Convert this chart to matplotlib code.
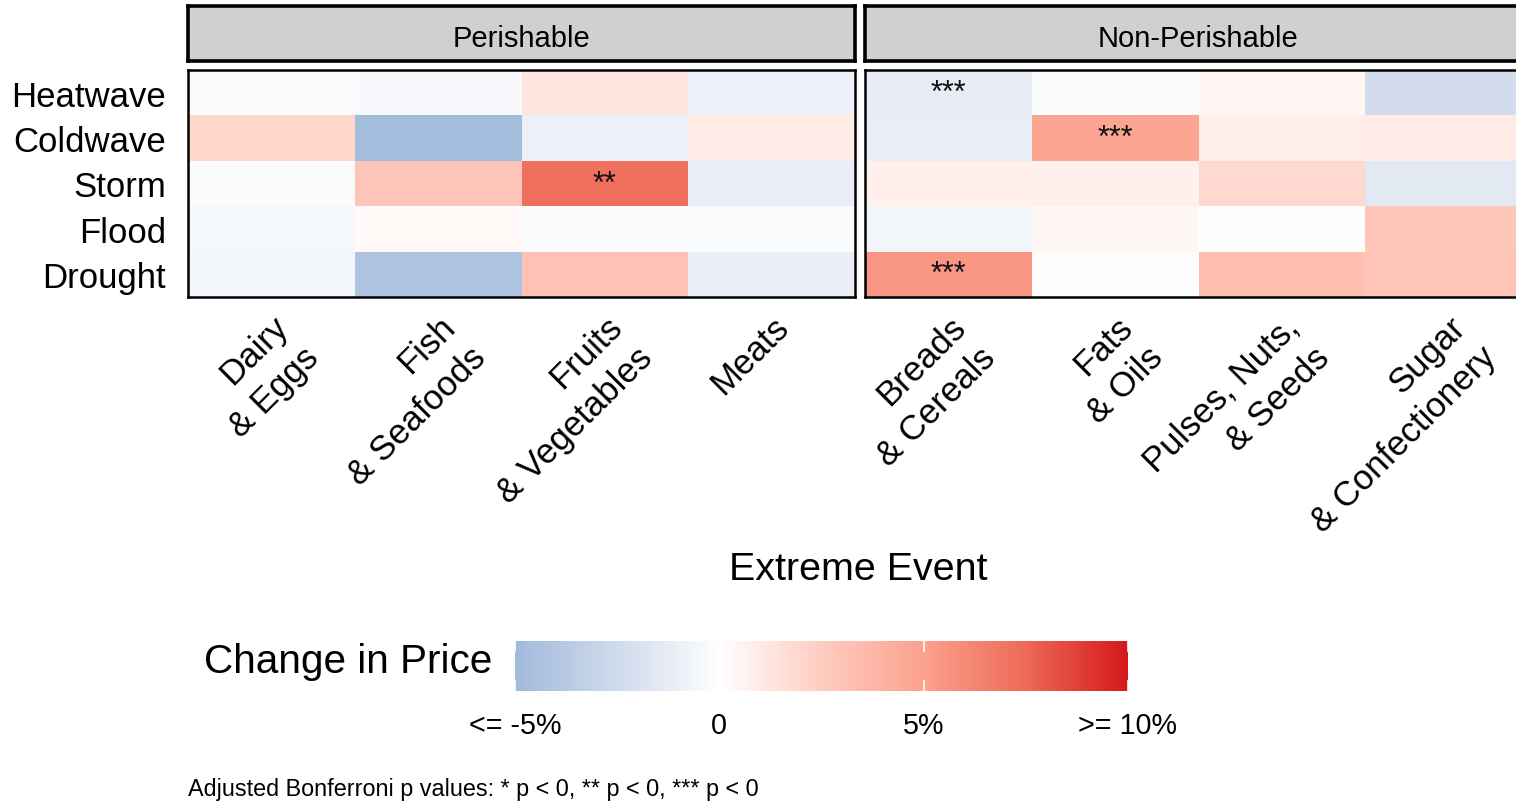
import numpy as np
import matplotlib
matplotlib.use("Agg")
import matplotlib.pyplot as plt
from matplotlib.colors import LinearSegmentedColormap, Normalize

plt.rcParams["font.family"] = ["Liberation Sans", "DejaVu Sans"]

events = ["Heatwave", "Coldwave", "Storm", "Flood", "Drought"]
groups = ["Perishable", "Non-Perishable"]
perishable = ["Dairy\n& Eggs", "Fish\n& Seafoods", "Fruits\n& Vegetables", "Meats"]
non_perishable = ["Breads\n& Cereals", "Fats\n& Oils", "Pulses, Nuts,\n& Seeds",
                  "Sugar\n& Confectionery"]

# price change (%) per event (rows) and food category (columns)
change_perishable = [
    [-0.3, -0.4, 1.3, -0.9],
    [2.0, -4.8, -1.0, 1.0],
    [-0.3, 3.0, 7.3, -1.2],
    [-0.6, 0.3, -0.3, -0.3],
    [-0.7, -4.4, 3.2, -1.1],
]
change_non_perishable = [
    [-1.3, -0.3, 0.5, -2.4],
    [-1.2, 4.8, 0.9, 1.0],
    [0.8, 0.8, 1.9, -1.5],
    [-0.7, 0.4, 0.05, 2.8],
    [5.5, -0.1, 3.3, 3.0],
]
stars_perishable = [
    ["", "", "", ""],
    ["", "", "", ""],
    ["", "", "**", ""],
    ["", "", "", ""],
    ["", "", "", ""],
]
stars_non_perishable = [
    ["***", "", "", ""],
    ["", "***", "", ""],
    ["", "", "", ""],
    ["", "", "", ""],
    ["***", "", "", ""],
]

VMIN, VMAX = -5, 10
nodes = [(-5, "#a2bbdc"), (-2.5, "#d0dbec"), (0, "#ffffff"), (2.5, "#ffcdc1"),
         (5, "#fba28e"), (7.5, "#ee6b58"), (10, "#d5191c")]
cmap = LinearSegmentedColormap.from_list(
    "price", [((v - VMIN) / (VMAX - VMIN), c) for v, c in nodes])
norm = Normalize(VMIN, VMAX)

W, H = 1516, 803
fig = plt.figure(figsize=(W / 100, H / 100), dpi=100)


def box(x0, y0, x1, y1):
    # pixel box (top-left origin) -> figure fraction rect
    return [x0 / W, 1 - y1 / H, (x1 - x0) / W, (y1 - y0) / H]


panels = [(188, perishable, change_perishable, stars_perishable),
          (865, non_perishable, change_non_perishable, stars_non_perishable)]

for k, (px, cats, vals, stars) in enumerate(panels):
    ax = fig.add_axes(box(px, 71, px + 667, 298))
    arr = np.array(vals)
    ax.pcolormesh(np.arange(len(cats) + 1), np.arange(len(events) + 1), arr,
                  cmap=cmap, norm=norm)
    ax.set_xlim(0, len(cats))
    ax.set_ylim(len(events), 0)
    for i in range(len(events)):
        for j in range(len(cats)):
            if stars[i][j]:
                ax.text(j + 0.5, i + 0.5, stars[i][j], ha="center", va="center",
                        fontsize=22, color="#111111")
    ax.set_xticks(np.arange(len(cats)) + 0.5)
    ax.set_xticklabels(cats, rotation=45, ha="right", va="top",
                       rotation_mode="anchor", multialignment="right",
                       fontsize=25, linespacing=1.4)
    ax.tick_params(length=0, pad=9)
    if k == 0:
        ax.set_yticks(np.arange(len(events)) + 0.5)
        ax.set_yticklabels(events, fontsize=25)
        ax.tick_params(axis="y", pad=16)
    else:
        ax.set_yticks([])
    for s in ax.spines.values():
        s.set_linewidth(1.8)
        s.set_color("black")

    sax = fig.add_axes(box(px, 7, px + 667, 62))
    sax.set_facecolor("#d0d0d0")
    sax.set_xticks([]); sax.set_yticks([])
    for s in sax.spines.values():
        s.set_linewidth(2.6)
        s.set_color("black")
    sax.text(0.5, 0.42, groups[k], ha="center", va="center", fontsize=21,
             transform=sax.transAxes)

fig.text(858 / W, 1 - 570 / H, "Extreme Event", ha="center", va="center", fontsize=28.4)

# colour bar legend
cax = fig.add_axes(box(515, 642, 1128, 692))
grad = np.linspace(VMIN, VMAX, 600).reshape(1, -1)
cax.imshow(grad, cmap=cmap, norm=norm, aspect="auto", extent=[VMIN, VMAX, 0, 1])
cax.set_xlim(VMIN, VMAX); cax.set_ylim(0, 1)
cax.axis("off")
bar_ticks = [-5, 0, 5, 10]
bar_labels = ["<= -5%", "0", "5%", ">= 10%"]
for t, lab in zip(bar_ticks, bar_labels):
    cax.plot([t, t], [0, 0.2], color="white", lw=1.2)
    cax.plot([t, t], [0.8, 1], color="white", lw=1.2)
    cax.text(t, -0.68, lab, ha="center", va="center", fontsize=20.7,
             transform=cax.transData, clip_on=False)
fig.text(492 / W, 1 - 662 / H, "Change in Price", ha="right", va="center", fontsize=29.2)

fig.text(188 / W, 1 - 790 / H,
         "Adjusted Bonferroni p values: * p < 0, ** p < 0, *** p < 0",
         ha="left", va="center", fontsize=16.8)

fig.savefig("out.png", dpi=100)
